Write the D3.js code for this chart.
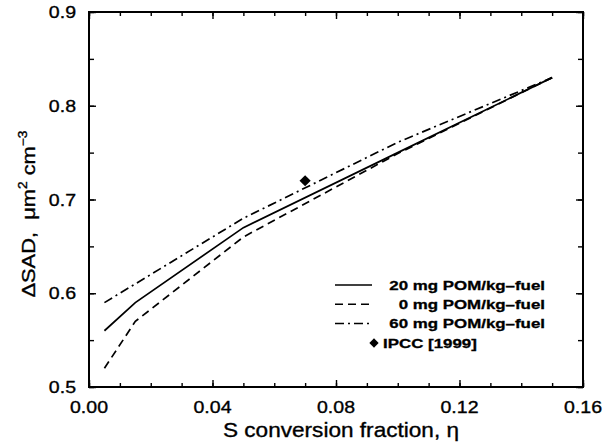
<!DOCTYPE html>
<html>
<head>
<meta charset="utf-8">
<script src="https://cdn.jsdelivr.net/npm/d3@7"></script>
<style>
  body { margin: 0; background: #fff; }
  text { font-family: "Liberation Sans", Arial, sans-serif; fill: #000; stroke: #000; stroke-width: 0.35; }
  .tick-label { font-size: 17px; }
  .axis-title { font-size: 20px; }
  .y-title { font-size: 19px; white-space: pre; }
  .legend-text { font-size: 13px; font-weight: bold; stroke-width: 0.3; }
</style>
</head>
<body>
<div id="chart-div"></div>
<script>
// conversion fraction (x) for every curve
const eta = [0.005, 0.015, 0.05, 0.10, 0.15];
// ΔSAD values for each POM loading
const pom20 = [0.56, 0.59, 0.67, 0.75, 0.83];
const pom0 = [0.52, 0.57, 0.66, 0.749, 0.83];
const pom60 = [0.59, 0.61, 0.68, 0.761, 0.83];
const ipcc = [{ x: 0.07, y: 0.72 }];

const seriesNames = ["20 mg POM/kg\u2013fuel", "0 mg POM/kg\u2013fuel", "60 mg POM/kg\u2013fuel"];
const dashes = [null, "8,5", "9,4,2,4"];
const xTicks = [0.00, 0.04, 0.08, 0.12, 0.16];
const yTicks = [0.5, 0.6, 0.7, 0.8, 0.9];

const svgDims = { width: 605, height: 448 };
const margin = { top: 12, right: 22, bottom: 61, left: 89 };

const svg = d3.select("#chart-div")
    .append("svg")
    .attr("width", svgDims.width)
    .attr("height", svgDims.height);

const width = svgDims.width - margin.left - margin.right;
const height = svgDims.height - margin.top - margin.bottom;
const g = svg.append("g").attr("transform", "translate(" + margin.left + "," + margin.top + ")");

const x = d3.scaleLinear().domain([0, 0.16]).range([0, width]);
const y = d3.scaleLinear().domain([0.5, 0.9]).range([height, 0]);

// the scanned lettering is wider than Arial, so stretch it a bit
function stretchedText(parent, cls, tx, ty, sx, anchor, str) {
    return parent.append("g")
        .attr("transform", "translate(" + tx + "," + ty + ") scale(" + sx + ",1)")
        .append("text")
        .attr("class", cls)
        .attr("text-anchor", anchor)
        .text(str);
}

// ticks point inward on all four sides
const minorX = d3.range(0, 0.1601, 0.01);
const minorY = d3.range(0.5, 0.9001, 0.05);

function tickAxis(axis, ticks, size) {
    return axis.tickValues(ticks).tickSize(size).tickFormat("");
}

g.append("g").attr("transform", "translate(0," + height + ")")
    .call(tickAxis(d3.axisTop(x), minorX, 4));
g.append("g").attr("transform", "translate(0," + height + ")")
    .call(tickAxis(d3.axisTop(x), xTicks, 7));
g.append("g").call(tickAxis(d3.axisBottom(x), minorX, 4));
g.append("g").call(tickAxis(d3.axisBottom(x), xTicks, 7));
g.append("g").call(tickAxis(d3.axisRight(y), minorY, 5));
g.append("g").call(tickAxis(d3.axisRight(y), yTicks, 7));
g.append("g").attr("transform", "translate(" + width + ",0)")
    .call(tickAxis(d3.axisLeft(y), minorY, 5));
g.append("g").attr("transform", "translate(" + width + ",0)")
    .call(tickAxis(d3.axisLeft(y), yTicks, 7));

g.selectAll(".domain").remove();
g.selectAll(".tick line").attr("stroke", "#000").attr("stroke-width", 1.4);

// frame
g.append("rect")
    .attr("width", width).attr("height", height)
    .attr("fill", "none").attr("stroke", "#000").attr("stroke-width", 2);

// tick labels
xTicks.forEach(d => {
    stretchedText(g, "tick-label", x(d), height + 26, 1.15, "middle", d3.format(".2f")(d));
});
yTicks.forEach(d => {
    stretchedText(g, "tick-label", -13, y(d) + 6, 1.15, "end", d3.format(".1f")(d));
});

// axis titles
stretchedText(svg, "axis-title", 341, 437, 1.13, "middle", "S conversion fraction, \u03b7");

const yt = svg.append("g")
    .attr("transform", "translate(35,214) rotate(-90) scale(1.15,1)")
    .append("text").attr("class", "y-title")
    .attr("text-anchor", "middle");
yt.append("tspan").text("\u0394SAD,  \u03bcm");
yt.append("tspan").attr("dy", -8).style("font-size", "12px").text("2");
yt.append("tspan").attr("dy", 8).text(" cm");
yt.append("tspan").attr("dy", -8).style("font-size", "12px").text("\u22123");

// curves
const line = d3.line().x(d => x(d[0])).y(d => y(d[1]));
[pom20, pom0, pom60].forEach((vals, i) => {
    g.append("path")
        .datum(d3.zip(eta, vals))
        .attr("d", line)
        .attr("fill", "none")
        .attr("stroke", "#000")
        .attr("stroke-width", 1.7)
        .attr("stroke-dasharray", dashes[i]);
});

// IPCC point
const diamond = d3.symbol().type(d3.symbolDiamond2).size(80);
g.selectAll(".ipcc").data(ipcc).enter().append("path")
    .attr("d", diamond)
    .attr("transform", d => "translate(" + x(d.x) + "," + y(d.y) + ")")
    .attr("fill", "#000");

// legend
const legend = svg.append("g");
seriesNames.forEach((name, i) => {
    const ly = 285 + i * 19.3;
    legend.append("line")
        .attr("x1", 335).attr("x2", 372)
        .attr("y1", ly).attr("y2", ly)
        .attr("stroke", "#000").attr("stroke-width", 1.5)
        .attr("stroke-dasharray", dashes[i]);
    stretchedText(legend, "legend-text", 545, ly + 4.5, 1.3, "end", name);
});
legend.append("path")
    .attr("d", d3.symbol().type(d3.symbolDiamond2).size(55))
    .attr("transform", "translate(374,343)");
stretchedText(legend, "legend-text", 383, 347.5, 1.3, "start", "IPCC [1999]");
</script>
</body>
</html>
